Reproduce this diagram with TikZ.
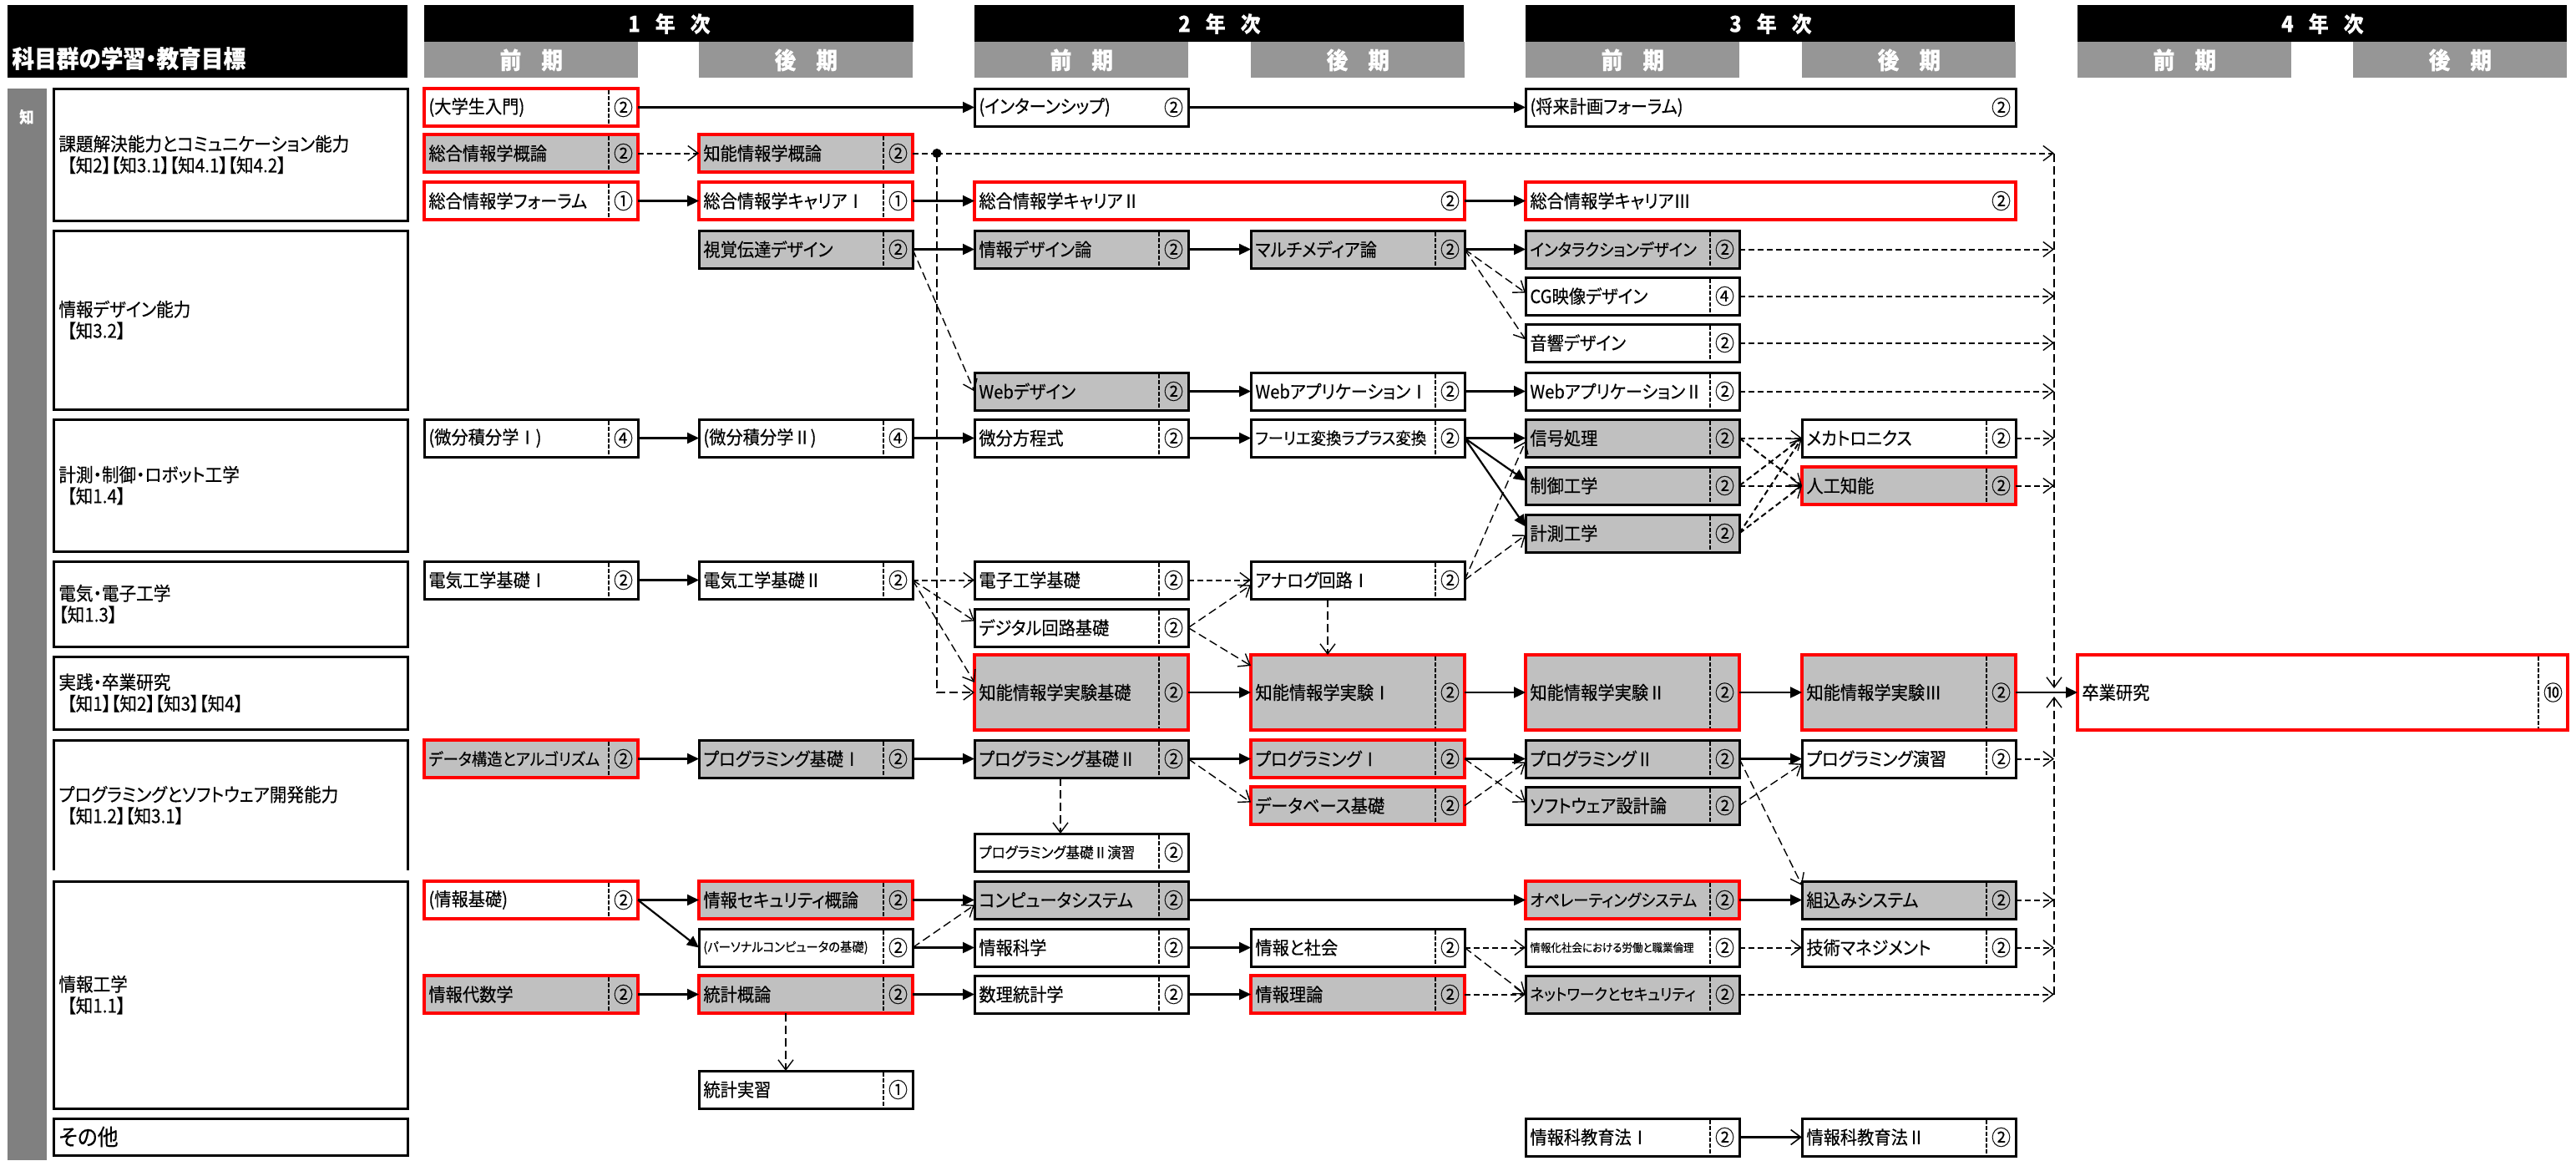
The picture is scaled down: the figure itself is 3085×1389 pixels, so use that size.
\documentclass[tikz,border=0pt]{standalone}
\usepackage{fontspec}
\setmainfont{Noto Sans CJK JP}[Script=CJK, RawFeature={+palt}, FakeStretch=0.92, FakeBold=0.3]
\usetikzlibrary{arrows.meta,calc}
\definecolor{boxgray}{RGB}{192,192,192}
\definecolor{headgray}{RGB}{150,150,150}
\definecolor{stripgray}{RGB}{128,128,128}
\newcommand\fs[1]{\fontsize{#1}{#1}\selectfont}
% course box: style, name, x, y, title, credits (with dashed credit divider)
\newcommand\crs[6]{%
  \node[cbox,#1] (#2) at (#3,#4) {};
  \node[ctext] (#2-t) at (#2.west) {#5};
  \node[cnum] (#2-n) at ([xshift=-8.75pt]#2.east) {#6};
  \draw[divider] ([xshift=-17.5pt]#2.north east) -- ([xshift=-17.5pt]#2.south east);}
% course box without divider
\newcommand\crsn[6]{%
  \node[cbox,#1] (#2) at (#3,#4) {};
  \node[ctext] (#2-t) at (#2.west) {#5};
  \node[cnum] (#2-n) at ([xshift=-8.75pt]#2.east) {#6};}
\begin{document}
\begin{tikzpicture}[x=0.5pt,y=-0.5pt,
  cbox/.style={draw=black, line width=1.5pt, fill=white, anchor=north west,
    minimum width=128pt, minimum height=22.5pt, inner sep=0pt, outer sep=0pt},
  gbox/.style={fill=boxgray},
  rbox/.style={draw=red, line width=2.3pt},
  wide/.style={minimum width=293.5pt},
  tall/.style={minimum height=45pt},
  ctext/.style={anchor=west, inner sep=0pt, xshift=2.5pt, font=\fs{11}},
  cnum/.style={inner sep=0pt, font=\fs{12.5}},
  divider/.style={line width=1pt, dash pattern=on 2.2pt off 1.3pt, shorten <=1.2pt, shorten >=1.2pt},
  catbox/.style={draw=black, line width=1.5pt, fill=white, anchor=north west,
    minimum width=212pt, inner sep=0pt, outer sep=0pt},
  cattext/.style={anchor=west, align=left, inner sep=0pt, xshift=3pt, font=\fontsize{11.2}{12.8}\selectfont},
  yearbar/.style={anchor=north west, fill=black, text=white, minimum width=293pt,
    minimum height=22pt, inner sep=0pt, font=\bfseries\fs{13}},
  term/.style={anchor=north west, fill=headgray, text=white, minimum width=128pt,
    minimum height=21.5pt, inner sep=0pt, font=\bfseries\fs{14}},
  sarr/.style={line width=1.1pt, -{Triangle[length=7pt,width=6.5pt]}},
  oarr/.style={line width=1.1pt, -{Straight Barb[length=6pt,width=9pt,line width=0.8pt]}},
  dshort/.style={line width=1pt, dash pattern=on 3.5pt off 2pt,
    -{Straight Barb[length=6pt,width=9pt,line width=0.7pt]}},
  dlong/.style={line width=0.7pt, dash pattern=on 5pt off 2.5pt,
    -{Straight Barb[length=6pt,width=9pt,line width=0.7pt]}},
  dplain/.style={line width=1pt, dash pattern=on 3.5pt off 2pt},
]
\useasboundingbox (0,0) rectangle (3085,1389);
\fill[white] (0,0) rectangle (3085,1389);

% ---------- header ----------
\node[anchor=north west, fill=black, minimum width=239.5pt, minimum height=43.5pt, inner sep=0pt] (hleft) at (9,6) {};
\node[anchor=west, text=white, inner sep=0pt, font=\bfseries\fs{14.5}] (htitle) at (14,70) {科目群の学習・教育目標};

\node[yearbar] (y1) at (508,6) {1\hspace{9pt}年\hspace{9pt}次};
\node[yearbar] (y2) at (1167,6) {2\hspace{9pt}年\hspace{9pt}次};
\node[yearbar] (y3) at (1827,6) {3\hspace{9pt}年\hspace{9pt}次};
\node[yearbar] (y4) at (2488,6) {4\hspace{9pt}年\hspace{9pt}次};
\node[term] (t1a) at (508,50) {前\hspace{12pt}期};
\node[term] (t1b) at (837,50) {後\hspace{12pt}期};
\node[term] (t2a) at (1167,50) {前\hspace{12pt}期};
\node[term] (t2b) at (1498,50) {後\hspace{12pt}期};
\node[term] (t3a) at (1827,50) {前\hspace{12pt}期};
\node[term] (t3b) at (2158,50) {後\hspace{12pt}期};
\node[term] (t4a) at (2488,50) {前\hspace{12pt}期};
\node[term] (t4b) at (2818,50) {後\hspace{12pt}期};

% ---------- left strip and goal groups ----------
\node[anchor=north west, fill=stripgray, minimum width=23.5pt, minimum height=641.5pt, inner sep=0pt] (strip) at (9,106) {};
\node[text=white, inner sep=0pt, font=\bfseries\fs{9.5}] (chi) at (32,140) {知};

\node[catbox, minimum height=79pt] (k1) at (64,106) {};
\node[cattext] (k1-t) at (k1.west) {課題解決能力とコミュニケーション能力\\\hspace*{5pt}【知2】【知3.1】【知4.1】【知4.2】};
\node[catbox, minimum height=107pt] (k2) at (64,276) {};
\node[cattext] (k2-t) at (k2.west) {情報デザイン能力\\\hspace*{5pt}【知3.2】};
\node[catbox, minimum height=79pt] (k3) at (64,502) {};
\node[cattext] (k3-t) at (k3.west) {計測・制御・ロボット工学\\\hspace*{5pt}【知1.4】};
\node[catbox, minimum height=51pt] (k4) at (64,672) {};
\node[cattext] (k4-t) at (k4.west) {電気・電子工学\\【知1.3】};
\node[catbox, minimum height=43.5pt] (k5) at (64,786) {};
\node[cattext] (k5-t) at (k5.west) {実践・卒業研究\\\hspace*{5pt}【知1】【知2】【知3】【知4】};
\node[catbox, draw=none, minimum height=78pt] (k6) at (64,886) {};
\draw[line width=1.5pt] (k6.south west) -- (k6.north west) -- (k6.north east) -- (k6.south east);
\node[cattext] (k6-t) at (k6.west) {プログラミングとソフトウェア開発能力\\\hspace*{5pt}【知1.2】【知3.1】};
\node[catbox, minimum height=136pt] (k7) at (64,1055) {};
\node[cattext] (k7-t) at (k7.west) {情報工学\\\hspace*{5pt}【知1.1】};
\node[catbox, minimum height=22pt] (k8) at (64,1339) {};
\node[cattext, font=\fs{13.5}] (k8-t) at (k8.west) {その他};

% ---------- courses ----------
\crs{rbox}{cdaigaku}{508}{106}{(大学生入門)}{②}
\crsn{}{cintern}{1167}{106}{(インターンシップ)}{②}
\crsn{wide}{cshorai}{1827}{106}{(将来計画フォーラム)}{②}
\crs{gbox,rbox}{csogo}{508}{161}{総合情報学概論}{②}
\crs{gbox,rbox}{cchino}{837}{161}{知能情報学概論}{②}
\crs{rbox}{cforum}{508}{218}{総合情報学フォーラム}{①}
\crs{rbox}{ccar1}{837}{218}{総合情報学キャリアⅠ}{①}
\crsn{wide,rbox}{ccar2}{1167}{218}{総合情報学キャリアⅡ}{②}
\crsn{wide,rbox}{ccar3}{1827}{218}{総合情報学キャリアⅢ}{②}
\crs{gbox}{cshikaku}{837}{276}{視覚伝達デザイン}{②}
\crs{gbox}{cjdesign}{1167}{276}{情報デザイン論}{②}
\crs{gbox}{cmulti}{1498}{276}{マルチメディア論}{②}
\crs{gbox}{cinter}{1827}{276}{\fs{10.2}インタラクションデザイン}{②}
\crs{}{ccg}{1827}{332}{CG映像デザイン}{④}
\crs{}{conkyo}{1827}{388}{音響デザイン}{②}
\crs{gbox}{cweb}{1167}{446}{Webデザイン}{②}
\crs{}{cwapp1}{1498}{446}{WebアプリケーションⅠ}{②}
\crs{}{cwapp2}{1827}{446}{WebアプリケーションⅡ}{②}
\crs{}{cbibun1}{508}{502}{(微分積分学Ⅰ)}{④}
\crs{}{cbibun2}{837}{502}{(微分積分学Ⅱ)}{④}
\crs{}{choteishiki}{1167}{502}{微分方程式}{②}
\crs{}{cfourier}{1498}{502}{\fs{10}フーリエ変換ラプラス変換}{②}
\crs{gbox}{cshingo}{1827}{502}{信号処理}{②}
\crs{}{cmecha}{2158}{502}{メカトロニクス}{②}
\crs{gbox}{cseigyo}{1827}{559}{制御工学}{②}
\crs{gbox,rbox}{cai}{2158}{559}{人工知能}{②}
\crs{gbox}{ckeisoku}{1827}{616}{計測工学}{②}
\crs{}{cdenki1}{508}{672}{電気工学基礎Ⅰ}{②}
\crs{}{cdenki2}{837}{672}{電気工学基礎Ⅱ}{②}
\crs{}{cdenshi}{1167}{672}{電子工学基礎}{②}
\crs{}{canalog}{1498}{672}{アナログ回路Ⅰ}{②}
\crs{}{cdigital}{1167}{729}{デジタル回路基礎}{②}
\crs{tall,gbox,rbox}{cjk0}{1167}{784}{知能情報学実験基礎}{②}
\crs{tall,gbox,rbox}{cjk1}{1498}{784}{知能情報学実験Ⅰ}{②}
\crs{tall,gbox,rbox}{cjk2}{1827}{784}{知能情報学実験Ⅱ}{②}
\crs{tall,gbox,rbox}{cjk3}{2158}{784}{知能情報学実験Ⅲ}{②}
\crs{tall,wide,rbox}{csotsu}{2488}{784}{卒業研究}{⑩}
\crs{gbox,rbox}{cdata}{508}{886}{\fs{10}データ構造とアルゴリズム}{②}
\crs{gbox}{cpg1}{837}{886}{プログラミング基礎Ⅰ}{②}
\crs{gbox}{cpg2}{1167}{886}{プログラミング基礎Ⅱ}{②}
\crs{gbox,rbox}{cprog1}{1498}{886}{プログラミングⅠ}{②}
\crs{gbox}{cprog2}{1827}{886}{プログラミングⅡ}{②}
\crs{}{cprogex}{2158}{886}{プログラミング演習}{②}
\crs{gbox,rbox}{cdb}{1498}{942}{データベース基礎}{②}
\crs{gbox}{csoft}{1827}{942}{ソフトウェア設計論}{②}
\crs{}{cpg2ex}{1167}{998}{\fs{9}プログラミング基礎Ⅱ演習}{②}
\crs{rbox}{ckiso}{508}{1055}{(情報基礎)}{②}
\crs{gbox,rbox}{csecurity}{837}{1055}{情報セキュリティ概論}{②}
\crs{gbox}{ccompsys}{1167}{1055}{コンピュータシステム}{②}
\crs{gbox,rbox}{cos}{1827}{1055}{\fs{10}オペレーティングシステム}{②}
\crs{gbox}{cembed}{2158}{1055}{組込みシステム}{②}
\crs{}{cpc}{837}{1112}{\fs{7.8}(パーソナルコンピュータの基礎)}{②}
\crs{}{ckagaku}{1167}{1112}{情報科学}{②}
\crs{}{cshakai}{1498}{1112}{情報と社会}{②}
\crs{}{crinri}{1827}{1112}{\fs{6.8}情報化社会における労働と職業倫理}{②}
\crs{}{cmgmt}{2158}{1112}{技術マネジメント}{②}
\crs{gbox,rbox}{cdaisu}{508}{1168}{情報代数学}{②}
\crs{gbox,rbox}{ctokei}{837}{1168}{統計概論}{②}
\crs{}{csuri}{1167}{1168}{数理統計学}{②}
\crs{gbox,rbox}{criron}{1498}{1168}{情報理論}{②}
\crs{gbox}{cnetwork}{1827}{1168}{\fs{9.5}ネットワークとセキュリティ}{②}
\crs{}{cjisshu}{837}{1282}{統計実習}{①}
\crs{}{ckyoiku1}{1827}{1339}{情報科教育法Ⅰ}{②}
\crs{}{ckyoiku2}{2158}{1339}{情報科教育法Ⅱ}{②}

% ---------- helper points ----------
\coordinate (vline) at (2460,0);
\coordinate (jdot) at ([xshift=14.5pt]cchino.east);
\coordinate (vtop) at (jdot -| vline);
\coordinate (vmid) at (cjk3.east -| vline);
\coordinate (vbot) at (cnetwork.east -| vline);

% ---------- connectors ----------
% career track
\draw[sarr] (cdaigaku.east) -- (cintern.west);
\draw[sarr] (cintern.east) -- (cshorai.west);
\draw[dshort] (csogo.east) -- (cchino.west);
\draw[dplain] (cchino.east) -- (jdot);
\draw[dshort] (jdot) -- (vtop);
\draw[dlong] (jdot) |- (cjk0.west);
\fill (jdot) circle (2.8pt);
\draw[sarr] (cforum.east) -- (ccar1.west);
\draw[sarr] (ccar1.east) -- (ccar2.west);
\draw[sarr] (ccar2.east) -- (ccar3.west);

% design
\draw[sarr] (cshikaku.east) -- (cjdesign.west);
\draw[dlong] (cshikaku.east) -- (cweb.west);
\draw[sarr] (cjdesign.east) -- (cmulti.west);
\draw[sarr] (cmulti.east) -- (cinter.west);
\draw[dlong] (cmulti.east) -- ([yshift=2pt]ccg.west);
\draw[dlong] (cmulti.east) -- ([yshift=2pt]conkyo.west);
\draw[sarr] (cweb.east) -- (cwapp1.west);
\draw[sarr] (cwapp1.east) -- (cwapp2.west);

% measurement and control
\draw[sarr] (cbibun1.east) -- (cbibun2.west);
\draw[sarr] (cbibun2.east) -- (choteishiki.west);
\draw[sarr] (choteishiki.east) -- (cfourier.west);
\draw[sarr] (cfourier.east) -- (cshingo.west);
\draw[sarr] (cfourier.east) -- ([yshift=3pt]cseigyo.west);
\draw[sarr] (cfourier.east) -- ([yshift=4pt]ckeisoku.west);
\draw[dlong] (canalog.east) -- ([yshift=-2pt]cshingo.west);
\draw[dlong] (canalog.east) -- ([yshift=-1pt]ckeisoku.west);
\foreach \s in {cshingo,cseigyo,ckeisoku}{
  \draw[dshort] (\s.east) -- (cmecha.west);
  \draw[dshort] (\s.east) -- (cai.west);}

% electrical / electronic
\draw[sarr] (cdenki1.east) -- (cdenki2.west);
\draw[dshort] (cdenki2.east) -- (cdenshi.west);
\draw[dlong] (cdenki2.east) -- ([yshift=4pt]cdigital.west);
\draw[dlong] (cdenki2.east) -- ([yshift=6pt]cjk0.west);
\draw[dshort] (cdenshi.east) -- (canalog.west);
\draw[dlong] (cdigital.east) -- ([yshift=-3pt]canalog.west);
\draw[dlong] (cdigital.east) -- ([yshift=-6.5pt]cjk1.north west);
\draw[dlong] ([xshift=-18pt]canalog.south) -- ([xshift=-18pt]cjk1.north);

% experiments and graduation research
\draw[sarr] (cjk0.east) -- (cjk1.west);
\draw[sarr] (cjk1.east) -- (cjk2.west);
\draw[sarr] (cjk2.east) -- (cjk3.west);
\draw[sarr] (cjk3.east) -- (csotsu.west);
\draw[dlong] (vtop) -- ([yshift=2.5pt]vmid);
\draw[dlong] (vbot) -- ([yshift=-2.5pt]vmid);

% programming
\draw[sarr] (cdata.east) -- (cpg1.west);
\draw[sarr] (cpg1.east) -- (cpg2.west);
\draw[sarr] (cpg2.east) -- (cprog1.west);
\draw[dlong] (cpg2.east) -- ([yshift=2pt]cdb.west);
\draw[dlong] ([xshift=-12.5pt]cpg2.south) -- ([xshift=-12.5pt]cpg2ex.north);
\draw[sarr] (cprog1.east) -- (cprog2.west);
\draw[dlong] (cprog1.east) -- ([yshift=2pt]csoft.west);
\draw[dlong] (cdb.east) -- ([yshift=-2pt]cprog2.west);
\draw[sarr] (cprog2.east) -- (cprogex.west);
\draw[dlong] (csoft.east) -- ([yshift=-3pt]cprogex.west);
\draw[dlong] (cprog2.east) -- ([yshift=-2.5pt]cembed.north west);

% information engineering
\draw[sarr] (ckiso.east) -- (csecurity.west);
\draw[sarr] (ckiso.east) -- (cpc.west);
\draw[sarr] (csecurity.east) -- (ccompsys.west);
\draw[dlong] (cpc.east) -- ([yshift=-3pt]ccompsys.west);
\draw[sarr] (cpc.east) -- (ckagaku.west);
\draw[sarr] (ccompsys.east) -- (cos.west);
\draw[sarr] (cos.east) -- (cembed.west);
\draw[sarr] (ckagaku.east) -- (cshakai.west);
\draw[dshort] (cshakai.east) -- (crinri.west);
\draw[dlong] (cshakai.east) -- (cnetwork.west);
\draw[dshort] (crinri.east) -- (cmgmt.west);
\draw[sarr] (cdaisu.east) -- (ctokei.west);
\draw[sarr] (ctokei.east) -- (csuri.west);
\draw[dlong] ([xshift=-12pt]ctokei.south) -- ([xshift=-12pt]cjisshu.north);
\draw[sarr] (csuri.east) -- (criron.west);
\draw[dshort] (criron.east) -- (cnetwork.west);

% other
\draw[oarr] (ckyoiku1.east) -- (ckyoiku2.west);

% links into the 4th-year collector line
\foreach \s in {cinter,ccg,conkyo,cwapp2,cmecha,cai,cprogex,cembed,cmgmt,cnetwork}{
  \draw[dshort] (\s.east) -- (\s.east -| vline);}
\end{tikzpicture}
\end{document}
